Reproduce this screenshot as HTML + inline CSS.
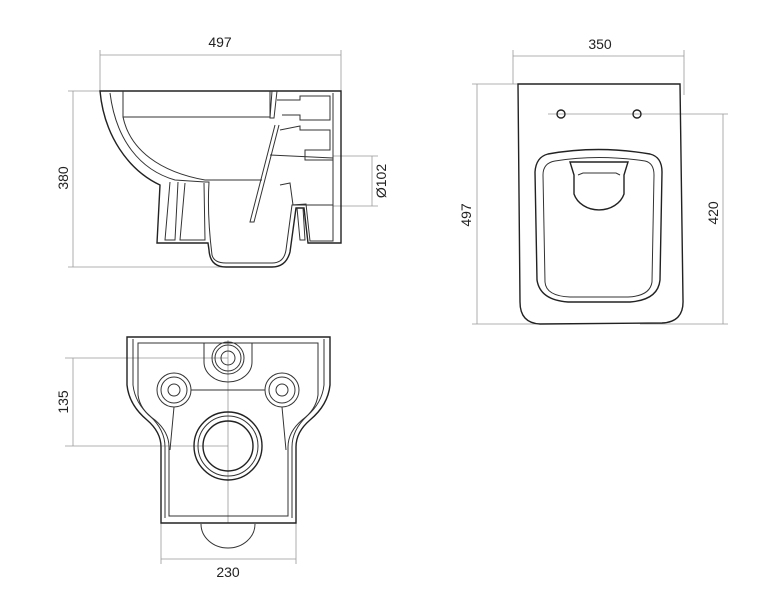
<!DOCTYPE html>
<html><head><meta charset="utf-8"><style>
body{margin:0;background:#fff}
svg{display:block}
text{font-family:"Liberation Sans",sans-serif;font-size:14px;fill:#222}
.o{fill:none;stroke:#222;stroke-width:1.4}
.t{fill:none;stroke:#333;stroke-width:1}
.d{fill:none;stroke:#999;stroke-width:0.8}
</style></head><body>
<svg width="768" height="600" viewBox="0 0 768 600">
<!-- SIDE VIEW -->
<line class="d" x1="100" y1="55" x2="341" y2="55"/>
<line class="d" x1="100" y1="50" x2="100" y2="91"/>
<line class="d" x1="341" y1="50" x2="341" y2="91"/>
<text x="220" y="47" text-anchor="middle">497</text>
<line class="d" x1="73" y1="91" x2="73" y2="267"/>
<line class="d" x1="68" y1="91" x2="100" y2="91"/>
<line class="d" x1="68" y1="267" x2="230" y2="267"/>
<text transform="translate(68,178) rotate(-90)" text-anchor="middle">380</text>
<line class="d" x1="333" y1="156" x2="378" y2="156"/>
<line class="d" x1="333" y1="206" x2="378" y2="206"/>
<line class="d" x1="372" y1="156" x2="372" y2="206"/>
<text transform="translate(386,181) rotate(-90)" text-anchor="middle">Ø102</text>

<path class="o" d="M100,91 L341,91 L341,243 L308,243 L304,208 L296,208 L290,252 Q286,267 272,267 L226,267 Q210,267 209,250 L208,243 L157,243 L160,185 C128,170 104,135 100,91 Z"/>
<path class="t" d="M110,93 C116,140 140,170 175,180 L205,182 L209,182 Q207,215 212,255 Q214,263 226,263 L272,263 Q284,263 286,250 L292,205 L306,204 L310,241 L333,241 L333,93"/>
<path class="t" d="M123,91 L123,117 L270,117 L270,91"/>
<path class="t" d="M123,117 C130,150 160,172 205,180 L262,180"/>
<path class="t" d="M170,182 L165,240 L175,240 L178,182"/>
<path class="t" d="M185,183 L180,240 L205,240 L204,183"/>
<path class="t" d="M272,91 L270,118 L274,118 L277,91"/>
<path class="t" d="M275,125 L250,222 L254,222 L279,125"/>
<path class="t" d="M277,100 L300,100 L300,96 L330,96 L330,120 L300,120 L300,115 L282,115"/>
<path class="t" d="M280,130 L300,126 L300,130 L330,130 L330,150 L305,150 L305,160 L333,160"/>
<path class="t" d="M270,155 L333,158 M280,185 L290,183 L293,205 L333,205"/>
<path class="t" d="M297,208 L300,240 L305,240 L303,208"/>

<!-- TOP VIEW -->
<line class="d" x1="513" y1="56" x2="684" y2="56"/>
<line class="d" x1="513" y1="50" x2="513" y2="84"/>
<line class="d" x1="684" y1="50" x2="684" y2="95"/>
<text x="600" y="49" text-anchor="middle">350</text>
<line class="d" x1="477" y1="84" x2="477" y2="324"/>
<line class="d" x1="472" y1="84" x2="518" y2="84"/>
<line class="d" x1="472" y1="324" x2="560" y2="324"/>
<text transform="translate(471,215) rotate(-90)" text-anchor="middle">497</text>
<line class="d" x1="723" y1="114" x2="723" y2="324"/>
<line class="d" x1="548" y1="114" x2="728" y2="114"/>
<line class="d" x1="640" y1="324" x2="728" y2="324"/>
<text transform="translate(718,213) rotate(-90)" text-anchor="middle">420</text>
<path class="o" d="M518,84 L680,84 L683,300 Q684,322 662,323 L540,324 Q520,323 520,302 Z"/>
<circle class="o" cx="561" cy="114" r="4"/>
<circle class="o" cx="637" cy="114" r="4"/>
<path class="o" d="M548,154 Q598,145 650,154 Q662,157 662,172 L660,280 Q658,300 630,302 L568,302 Q540,300 537,280 L535,172 Q536,157 548,154 Z"/>
<path class="t" d="M555,161 Q598,154 645,161 Q654,163 654,175 L652,282 Q650,296 628,297 L570,297 Q546,296 545,282 L543,175 Q543,163 555,161 Z"/>
<path class="o" d="M570,162 L628,162 L624,175 L624,194 A26,22 0 0 1 574,194 L574,175 Z"/>
<path class="t" d="M578,175 L583,173 L616,173 L620,175"/>

<!-- BOTTOM VIEW -->
<line class="d" x1="228" y1="340" x2="228" y2="523"/>
<line class="d" x1="65" y1="358" x2="228" y2="358"/>
<line class="d" x1="65" y1="446" x2="228" y2="446"/>
<line class="d" x1="73" y1="358" x2="73" y2="446"/>
<text transform="translate(68,402) rotate(-90)" text-anchor="middle">135</text>
<line class="d" x1="161" y1="559" x2="296" y2="559"/>
<line class="d" x1="161" y1="523" x2="161" y2="564"/>
<line class="d" x1="296" y1="523" x2="296" y2="564"/>
<text x="228" y="577" text-anchor="middle">230</text>
<path class="o" d="M127,337 L330,337 L330,385 Q328,405 310,420 Q296,432 296,447 L296,523 L161,523 L161,447 Q161,432 147,420 Q129,405 127,385 Z"/>
<path class="t" d="M133,339 L133,385 Q135,403 150,416 Q165,430 165,447 L165,518 M324,339 L324,385 Q322,403 307,416 Q292,430 292,447 L292,518"/>
<path class="t" d="M138,343 L318,343 L318,395 Q316,410 302,420 Q288,432 288,447 L288,516 L169,516 L169,447 Q169,432 155,420 Q140,410 138,395 Z"/>
<path class="t" d="M204,343 L204,362 A24,20 0 0 0 252,362 L252,343"/>
<circle class="t" cx="228" cy="358" r="16"/><circle class="t" cx="228" cy="358" r="13"/><circle class="t" cx="228" cy="358" r="7"/>
<circle class="t" cx="174" cy="390" r="17"/><circle class="t" cx="174" cy="390" r="13"/><circle class="t" cx="174" cy="390" r="6"/>
<circle class="t" cx="282" cy="390" r="17"/><circle class="t" cx="282" cy="390" r="13"/><circle class="t" cx="282" cy="390" r="6"/>
<line class="t" x1="191" y1="390" x2="265" y2="390"/>
<path class="t" d="M174,407 L170,450 M282,407 L286,450"/>
<circle class="o" cx="228" cy="446" r="34"/><circle class="t" cx="228" cy="446" r="30"/><circle class="o" cx="228" cy="446" r="25"/>
<path class="t" d="M201,524 A27,24 0 0 0 255,524"/>
</svg>
</body></html>
